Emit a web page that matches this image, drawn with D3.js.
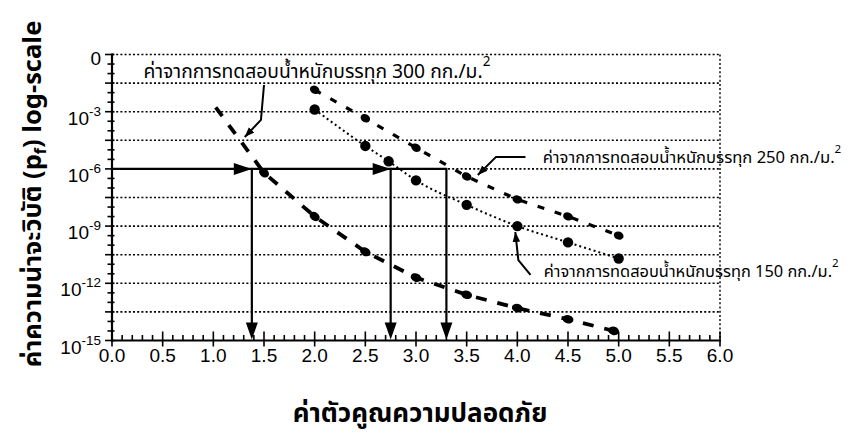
<!DOCTYPE html>
<html><head><meta charset="utf-8">
<script src="https://cdn.jsdelivr.net/npm/d3@7"></script>
<style>
body{margin:0;background:#fff;}
svg{display:block;}
text{font-family:"Liberation Sans",Arial,Helvetica,sans-serif;fill:#000;}
.thai{font-family:"Noto Sans Thai","Noto Sans",Loma,Garuda,sans-serif;}
</style></head><body>
<svg id="chart" width="849" height="438"></svg>
<script>
// Axis ticks
const xTickValues = d3.range(0, 6.001, 0.5);
const yTickExponents = [0, -3, -6, -9, -12, -15];

// Load 150 kg/m2 test results (safety factor, probability of failure)
const sf150 = [2.0, 2.5, 2.73, 3.0, 3.5, 4.0, 4.5, 5.0];
const pf150 = [1.3e-3, 1.6e-5, 2.5e-6, 2.5e-7, 1.3e-8, 1.0e-9, 1.4e-10, 2.0e-11];

// Load 250 kg/m2 test results
const sf250 = [2.0, 2.5, 3.0, 3.5, 4.0, 4.5, 5.0];
const pf250 = [1.4e-2, 4.5e-4, 1.3e-5, 4.0e-7, 2.5e-8, 3.2e-9, 3.2e-10];

// Load 300 kg/m2 test results
const sf300 = [1.0, 1.5, 2.0, 2.5, 3.0, 3.5, 4.0, 4.5, 4.95];
const pf300 = [2.5e-3, 6.3e-7, 3.2e-9, 4.5e-11, 2.0e-12, 2.5e-13, 5.0e-14, 1.3e-14, 3.2e-15];

const targetPf = 1e-6;
const readSf = [1.38, 2.75, 3.3];

// Callout labels
const labelText = "ค่าจากการทดสอบน้ำหนักบรรทุก ";
const labelLoads = ["300", "250", "150"];

const svg = d3.select("#chart");
const x = d3.scaleLinear().domain([0, 6]).range([112, 720]);
const y = d3.scaleLog().domain([1, 1e-15]).range([54.5, 340.5]);
const X0 = x(0), Y0 = y(1e-15);

const defs = svg.append("defs");
defs.append("marker").attr("id", "head").attr("viewBox", "0 0 10 10")
  .attr("refX", 10).attr("refY", 5).attr("markerWidth", 10).attr("markerHeight", 10)
  .attr("markerUnits", "userSpaceOnUse").attr("orient", "auto")
  .append("path").attr("d", "M0,1.2L10,5L0,8.8Z").attr("fill", "#000");

// Dotted grid every 1.5 decades
const gridExp = d3.range(0, -15, -1.5);
svg.append("g").selectAll("line").data(gridExp).join("line")
  .attr("x1", X0).attr("x2", x(6))
  .attr("y1", d => y(Math.pow(10, d))).attr("y2", d => y(Math.pow(10, d)))
  .attr("stroke", "#000").attr("stroke-width", 1.6).attr("stroke-dasharray", "2,2.2");
svg.append("line").attr("x1", x(6)).attr("x2", x(6)).attr("y1", y(1)).attr("y2", Y0)
  .attr("stroke", "#000").attr("stroke-width", 1.4).attr("stroke-dasharray", "2,2.2");

// Axes
svg.append("line").attr("x1", X0).attr("x2", X0).attr("y1", y(1) - 1).attr("y2", Y0 + 1)
  .attr("stroke", "#000").attr("stroke-width", 2.2);
svg.append("line").attr("x1", X0 - 1).attr("x2", x(6) + 1).attr("y1", Y0).attr("y2", Y0)
  .attr("stroke", "#000").attr("stroke-width", 2.2);

const xMinor = d3.range(0, 60.5, 1).map(d => d / 10);
svg.append("g").selectAll("line").data(xMinor).join("line")
  .attr("x1", d => x(d)).attr("x2", d => x(d))
  .attr("y1", (d, i) => i % 5 === 0 ? Y0 + 6 : Y0)
  .attr("y2", (d, i) => i % 5 === 0 ? Y0 - 9 : Y0 - 5.5)
  .attr("stroke", "#000").attr("stroke-width", 1.6);

const yMinor = d3.range(0, -15.01, -0.5);
svg.append("g").selectAll("line").data(yMinor).join("line")
  .attr("y1", d => y(Math.pow(10, d))).attr("y2", d => y(Math.pow(10, d)))
  .attr("x1", (d, i) => i % 3 === 0 ? X0 - 7 : X0 - 4.5)
  .attr("x2", X0 + 2.5)
  .attr("stroke", "#000").attr("stroke-width", 1.6);

svg.append("g").selectAll("text").data(xTickValues).join("text")
  .attr("x", d => x(d)).attr("y", Y0 + 21).attr("text-anchor", "middle")
  .attr("font-size", 19).text(d => d.toFixed(1));

const yLab = svg.append("g").selectAll("text").data(yTickExponents).join("text")
  .attr("x", X0 - 11).attr("y", d => y(Math.pow(10, d)) + 13)
  .attr("text-anchor", "end").attr("font-size", 19);
yLab.each(function(d) {
  const t = d3.select(this);
  if (d === 0) { t.text("0").attr("y", y(1) + 10); return; }
  t.append("tspan").text("10");
  t.append("tspan").attr("font-size", 13.5).attr("dy", -9).text(String(d));
});

// Series lines
const s150 = d3.zip(sf150, pf150), s250 = d3.zip(sf250, pf250), s300 = d3.zip(sf300, pf300);
const straight = d3.line().x(d => x(d[0])).y(d => y(d[1]));
const smooth = d3.line().x(d => x(d[0])).y(d => y(d[1])).curve(d3.curveMonotoneX);

svg.append("path").attr("d", smooth(s150))
  .attr("fill", "none").attr("stroke", "#000").attr("stroke-width", 2)
  .attr("stroke-dasharray", "2,3");
svg.append("path").attr("d", straight(s250))
  .attr("fill", "none").attr("stroke", "#000").attr("stroke-width", 3.2)
  .attr("stroke-dasharray", "7,11");
svg.append("path").attr("d", straight(s300))
  .attr("fill", "none").attr("stroke", "#000").attr("stroke-width", 3.8)
  .attr("stroke-dasharray", "11,11").attr("stroke-dashoffset", -4);

// Markers
svg.append("g").selectAll("circle").data(s150).join("circle")
  .attr("cx", d => x(d[0])).attr("cy", d => y(d[1])).attr("r", 5.2).attr("fill", "#000");

function blobs(series, rx, ry) {
  svg.append("g").selectAll("ellipse").data(series).join("ellipse")
    .attr("rx", rx).attr("ry", ry)
    .attr("transform", (d, i) => {
      const a = series[Math.min(i + 1, series.length - 1)], b = series[Math.max(i - 1, 0)];
      const ang = Math.atan2(y(a[1]) - y(b[1]), x(a[0]) - x(b[0])) * 180 / Math.PI;
      return `translate(${x(d[0])},${y(d[1])}) rotate(${ang})`;
    })
    .attr("fill", "#000");
}
blobs(s250, 5, 4);
blobs(s300.slice(1), 5.5, 4.2);

// Read-off lines at the target probability
const yT = y(targetPf);
svg.append("line").attr("x1", X0).attr("x2", x(d3.max(readSf))).attr("y1", yT).attr("y2", yT)
  .attr("stroke", "#000").attr("stroke-width", 2.2);
svg.append("g").selectAll("path").data(readSf.slice(0, 2)).join("path")
  .attr("d", d => `M${x(d)},${yT}L${x(d) - 18},${yT - 6}L${x(d) - 18},${yT + 6}Z`)
  .attr("fill", "#000");
svg.append("g").selectAll("line").data(readSf).join("line")
  .attr("x1", d => x(d)).attr("x2", d => x(d)).attr("y1", yT - 1).attr("y2", Y0 - 16)
  .attr("stroke", "#000").attr("stroke-width", 2.2);
svg.append("g").selectAll("path").data(readSf).join("path")
  .attr("d", d => `M${x(d)},${Y0 - 1}L${x(d) - 6},${Y0 - 18}L${x(d) + 6},${Y0 - 18}Z`)
  .attr("fill", "#000");

// Callouts (safety factor, log10 pf)
const callouts = [
  { pts: [[1.50, -1.6], [1.47, -3.43], [1.31, -4.33]], tx: 0.31, ty: -1.23, size: 19.3 },
  { pts: [[4.08, -5.37], [3.79, -5.37], [3.61, -6.32]], tx: 4.25, ty: -5.7, size: 16.6 },
  { pts: [[4.13, -11.56], [4.01, -10.78], [3.98, -9.31]], tx: 4.26, ty: -11.65, size: 16.4 }
];
const cl = d3.line().x(d => x(d[0])).y(d => y(Math.pow(10, d[1])));
callouts.forEach((c, i) => {
  svg.append("path").attr("d", cl(c.pts)).attr("fill", "none").attr("stroke", "#000")
    .attr("stroke-width", 2).attr("marker-end", "url(#head)");
  const t = svg.append("text").attr("class", "thai").attr("x", x(c.tx))
    .attr("y", y(Math.pow(10, c.ty))).attr("font-size", c.size);
  t.append("tspan").text(labelText + labelLoads[i] + " กก./ม.");
  t.append("tspan").attr("font-size", c.size * 0.7).attr("dy", -c.size * 0.6).text("2");
});

// Axis titles
svg.append("text").attr("class", "thai").attr("x", 420).attr("y", 422)
  .attr("text-anchor", "middle").attr("font-size", 26).attr("font-weight", "bold")
  .text("ค่าตัวคูณความปลอดภัย");
const yt = svg.append("text").attr("class", "thai")
  .attr("transform", "translate(41,194) rotate(-90)")
  .attr("text-anchor", "middle").attr("font-size", 25.5).attr("font-weight", "bold");
yt.append("tspan").text("ค่าความน่าจะวิบัติ (p");
yt.append("tspan").attr("font-size", 16).attr("dy", 5).text("f");
yt.append("tspan").attr("dy", -5).text(") log-scale");
</script>
</body></html>
